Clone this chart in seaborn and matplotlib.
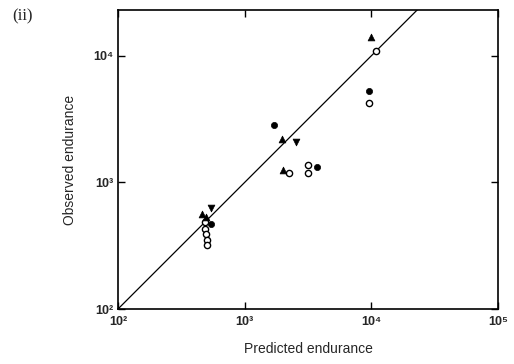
import matplotlib
matplotlib.use("Agg")
import matplotlib.pyplot as plt
from matplotlib.ticker import NullLocator
import pandas as pd
import seaborn as sns

# Endurance data: predicted vs observed, by specimen group
filled_circle_pred = [9500, 1690, 3740, 545]
filled_circle_obs = [5300, 2860, 1330, 468]
open_circle_pred = [10900, 9500, 3180, 3180, 2250, 489, 489, 495, 507, 507]
open_circle_obs = [11000, 4260, 1373, 1190, 1180, 483, 426, 388, 353, 322]
filled_tri_pred = [9930, 1970, 2000, 463, 498]
filled_tri_obs = [14000, 2185, 1260, 563, 530]
inv_tri_pred = [2550, 538]
inv_tri_obs = [2085, 630]

# 1:1 line (observed = predicted)
unity = [1e2, 1e5]

x_ticks = [1e2, 1e3, 1e4, 1e5]
x_tick_labels = ["10²", "10³", "10⁴", "10⁵"]
y_ticks = [1e2, 1e3, 1e4]
y_tick_labels = ["10²", "10³", "10⁴"]

frames = []
for name, p, o in [("filled_circle", filled_circle_pred, filled_circle_obs),
                   ("open_circle", open_circle_pred, open_circle_obs),
                   ("filled_tri", filled_tri_pred, filled_tri_obs),
                   ("inv_tri", inv_tri_pred, inv_tri_obs)]:
    frames.append(pd.DataFrame({"predicted": p, "observed": o, "group": name}))
df = pd.concat(frames, ignore_index=True)

sns.set_style("ticks")
plt.rcParams["font.family"] = ["Liberation Sans", "DejaVu Sans"]

fig = plt.figure(figsize=(5.14, 3.64), dpi=100)
ax = fig.add_axes([118 / 514, 1 - 309 / 364, (498 - 118) / 514, (309 - 10) / 364])

sns.lineplot(x=unity, y=unity, ax=ax, color="black", linewidth=0.9)

styles = {
    "filled_circle": dict(marker="o", s=20, color="black", edgecolor="black", linewidth=0.5),
    "open_circle": dict(marker="o", s=20, color="white", edgecolor="black", linewidth=1.0),
    "filled_tri": dict(marker="^", s=24, color="black", edgecolor="black", linewidth=0.5),
    "inv_tri": dict(marker="v", s=24, color="black", edgecolor="black", linewidth=0.5),
}
for name, kw in styles.items():
    sub = df[df["group"] == name]
    sns.scatterplot(data=sub, x="predicted", y="observed", ax=ax, zorder=3, **kw)

ax.set_xscale("log")
ax.set_yscale("log")
ax.set_xlim(1e2, 1e5)
ax.set_ylim(1e2, 2.3e4)
ax.set_xticks(x_ticks)
ax.set_xticklabels(x_tick_labels, fontweight="bold", fontsize=9)
ax.set_yticks(y_ticks)
ax.set_yticklabels(y_tick_labels, fontweight="bold", fontsize=9)
ax.xaxis.set_minor_locator(NullLocator())
ax.yaxis.set_minor_locator(NullLocator())
ax.tick_params(direction="in", length=5, width=1.0, top=True, right=True,
               labeltop=False, labelright=False, pad=3, color="black")
for sp in ax.spines.values():
    sp.set_linewidth(1.2)
    sp.set_color("black")

ax.set_xlabel("Predicted endurance", fontsize=10, labelpad=10)
ax.set_ylabel("Observed endurance", fontsize=10, labelpad=12)
ax.tick_params(axis="x", pad=5)

fig.text(12 / 514, 1 - 16 / 364, "(ii)", fontsize=12, family=["Liberation Serif", "DejaVu Serif"],
         va="center", ha="left")

fig.savefig("out.png", dpi=100, facecolor="white")
